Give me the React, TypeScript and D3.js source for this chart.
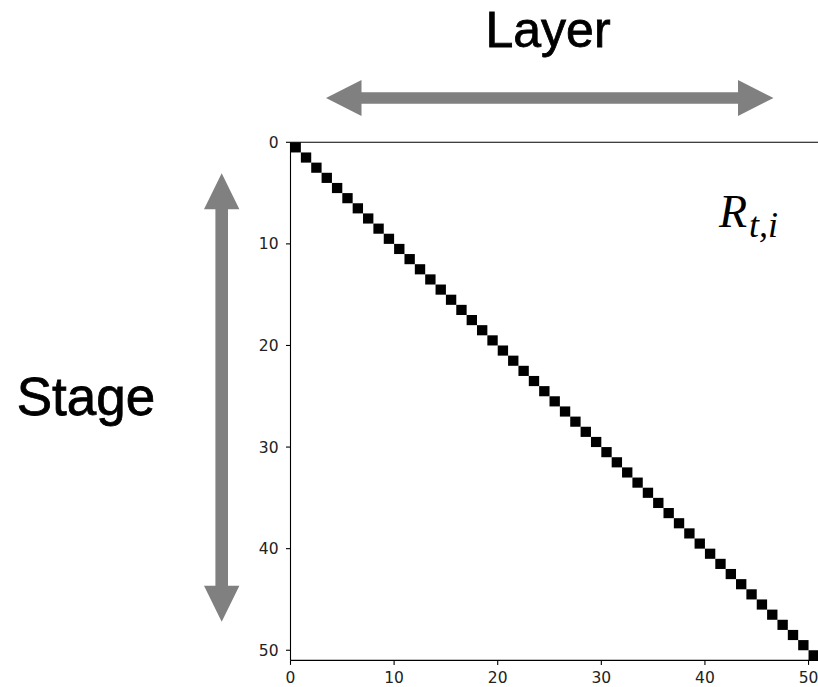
import React from "react";
import * as d3 from "d3";

// Stage index (row) and the single active layer (column) for that stage
const stages = [
  0, 1, 2, 3, 4, 5, 6, 7, 8, 9, 10, 11, 12, 13, 14, 15, 16, 17, 18, 19, 20, 21, 22, 23, 24, 25,
  26, 27, 28, 29, 30, 31, 32, 33, 34, 35, 36, 37, 38, 39, 40, 41, 42, 43, 44, 45, 46, 47, 48, 49, 50,
];
const activeLayer = [
  0, 1, 2, 3, 4, 5, 6, 7, 8, 9, 10, 11, 12, 13, 14, 15, 16, 17, 18, 19, 20, 21, 22, 23, 24, 25,
  26, 27, 28, 29, 30, 31, 32, 33, 34, 35, 36, 37, 38, 39, 40, 41, 42, 43, 44, 45, 46, 47, 48, 49, 50,
];
const gridSize = 51;
const xTicks = [0, 10, 20, 30, 40, 50];
const yTicks = [0, 10, 20, 30, 40, 50];

const W = 818;
const H = 687;

// horizontal double arrow path
function hArrow(x0: number, x1: number, cy: number, shaft: number, headW: number, headL: number) {
  const p = d3.path();
  p.moveTo(x0, cy);
  p.lineTo(x0 + headL, cy - headW);
  p.lineTo(x0 + headL, cy - shaft);
  p.lineTo(x1 - headL, cy - shaft);
  p.lineTo(x1 - headL, cy - headW);
  p.lineTo(x1, cy);
  p.lineTo(x1 - headL, cy + headW);
  p.lineTo(x1 - headL, cy + shaft);
  p.lineTo(x0 + headL, cy + shaft);
  p.lineTo(x0 + headL, cy + headW);
  p.closePath();
  return p.toString();
}

// vertical double arrow path
function vArrow(y0: number, y1: number, cx: number, shaft: number, headW: number, headL: number) {
  const p = d3.path();
  p.moveTo(cx, y0);
  p.lineTo(cx + headW, y0 + headL);
  p.lineTo(cx + shaft, y0 + headL);
  p.lineTo(cx + shaft, y1 - headL);
  p.lineTo(cx + headW, y1 - headL);
  p.lineTo(cx, y1);
  p.lineTo(cx - headW, y1 - headL);
  p.lineTo(cx - shaft, y1 - headL);
  p.lineTo(cx - shaft, y0 + headL);
  p.lineTo(cx - headW, y0 + headL);
  p.closePath();
  return p.toString();
}

export default function App() {
  const x = d3.scaleLinear().domain([0, gridSize]).range([290.5, 818.9]);
  const y = d3.scaleLinear().domain([0, gridSize]).range([142.3, 660.4]);
  const tickFont = "'DejaVu Sans', sans-serif";
  const arrowColor = "#808080";
  const labelFont = "'Liberation Sans', Arial, sans-serif";

  return (
    <svg
      width={W}
      height={H}
      style={{ position: "absolute", left: 0, top: 0, background: "#fff" }}
    >
      <rect width={W} height={H} fill="#fff" />

      {/* matrix cells */}
      <g>
        {stages.map((s, i) => {
          const l = activeLayer[i];
          return (
            <rect
              key={s}
              x={x(l)}
              y={y(s)}
              width={x(l + 1) - x(l)}
              height={y(s + 1) - y(s)}
              fill="#000"
            />
          );
        })}
      </g>

      {/* spines */}
      <g stroke="#000" strokeWidth={1.1} fill="none">
        <line x1={x(0)} x2={x(gridSize)} y1={y(0)} y2={y(0)} />
        <line x1={x(0)} x2={x(gridSize)} y1={y(gridSize)} y2={y(gridSize)} />
        <line x1={x(0)} x2={x(0)} y1={y(0)} y2={y(gridSize)} />
        <line x1={x(gridSize)} x2={x(gridSize)} y1={y(0)} y2={y(gridSize)} />
      </g>

      {/* x axis ticks */}
      <g>
        {xTicks.map((t) => (
          <g key={t} transform={`translate(${x(t)},${y(gridSize)})`}>
            <line y1={0} y2={4.5} stroke="#000" strokeWidth={1.1} />
            <text
              y={23}
              textAnchor="middle"
              fontFamily={tickFont}
              fontSize={15.5}
              fill="#222"
            >
              {t}
            </text>
          </g>
        ))}
      </g>

      {/* y axis ticks */}
      <g>
        {yTicks.map((t) => (
          <g key={t} transform={`translate(${x(0)},${y(t)})`}>
            <line x1={0} x2={-4.5} stroke="#000" strokeWidth={1.1} />
            <text
              x={-12}
              dy="0.36em"
              textAnchor="end"
              fontFamily={tickFont}
              fontSize={15.5}
              fill="#222"
            >
              {t}
            </text>
          </g>
        ))}
      </g>

      {/* direction arrows */}
      <path d={hArrow(326, 773.5, 98, 5.8, 18, 35.5)} fill={arrowColor} />
      <path d={vArrow(173.3, 621.7, 221.7, 6.3, 17.7, 36)} fill={arrowColor} />

      {/* labels */}
      <text
        x={548}
        y={47}
        textAnchor="middle"
        fontFamily={labelFont}
        fontSize={50}
        fill="#000"
        stroke="#000"
        strokeWidth={0.8}
      >
        Layer
      </text>
      <text
        x={86}
        y={415}
        textAnchor="middle"
        fontFamily={labelFont}
        fontSize={53}
        fill="#000"
        stroke="#000"
        strokeWidth={0.8}
      >
        Stage
      </text>

      <text
        x={719}
        y={227}
        fontFamily="'Liberation Serif', 'DejaVu Serif', serif"
        fontStyle="italic"
        fontSize={46}
        fill="#000"
      >
        R
        <tspan dx={2} dy={10} fontSize={36}>
          t,i
        </tspan>
      </text>
    </svg>
  );
}
